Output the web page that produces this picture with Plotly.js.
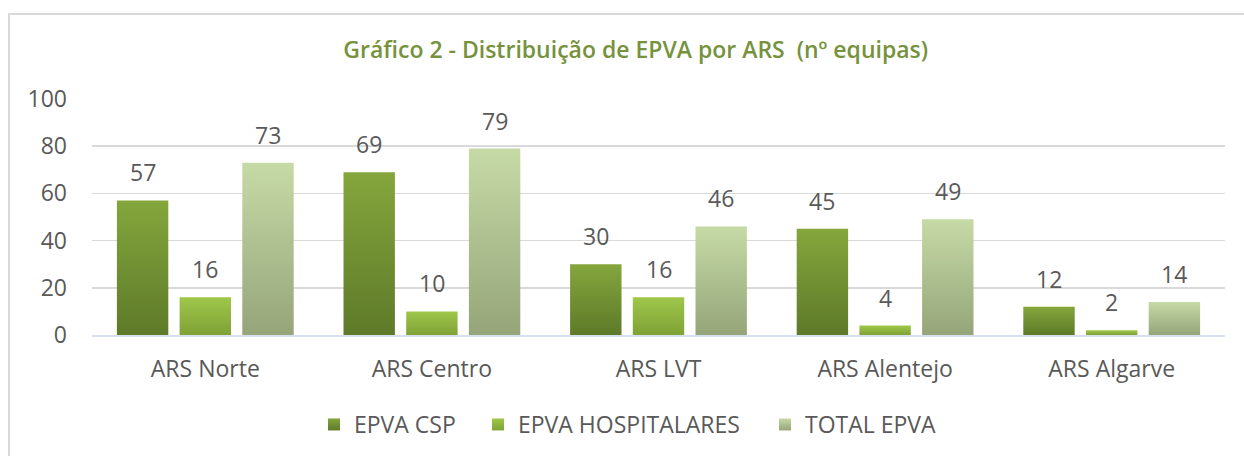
<!DOCTYPE html>
<html>
<head>
<meta charset="utf-8">
<script src="https://cdn.plot.ly/plotly-3.0.1.min.js"></script>
<style>
  html, body { margin: 0; padding: 0; background: #fff; }
  #wrap { position: relative; width: 1244px; height: 456px; overflow: hidden; }
  #chart { position: absolute; left: 0; top: 0; width: 1244px; height: 456px; }
  #frame { position: absolute; left: 8px; top: 13px; width: 1300px; height: 500px;
           border-left: 2px solid #d9d9d9; border-top: 2px solid #d9d9d9; pointer-events: none; }
</style>
</head>
<body>
<div id="wrap">
  <div id="frame"></div>
  <div id="chart"></div>
</div>
<script>
const categories = ["ARS Norte", "ARS Centro", "ARS LVT", "ARS Alentejo", "ARS Algarve"];
const seriesNames = ["EPVA CSP", "EPVA HOSPITALARES", "TOTAL EPVA"];
const epvaCsp = [57, 69, 30, 45, 12];
const epvaHosp = [16, 10, 16, 4, 2];
const totalEpva = [73, 79, 46, 49, 14];
const yTicks = [0, 20, 40, 60, 80, 100];

const seriesValues = [epvaCsp, epvaHosp, totalEpva];
const solid = ["#71902f", "#8fb541", "#aebf8f"];
const grads = [["#84a63c", "#5e7a29"], ["#9fc74b", "#7fa235"], ["#c6daa6", "#95a579"]];

const font = "'Open Sans', 'Noto Sans', sans-serif";
const textColor = "#595959";
const legendIds = ["legend", "legend2", "legend3"];
const legendLeftPx = [314, 478, 765];

const traces = seriesValues.map((vals, i) => ({
  type: "bar",
  name: seriesNames[i],
  x: categories,
  y: vals,
  legend: legendIds[i],
  marker: { color: solid[i], line: { width: 0 } },
  hoverinfo: "skip"
}));

// data labels via annotations anchored on data coords
const slot = 62.7;
const annotations = [];
seriesValues.forEach((vals, i) => {
  vals.forEach((v, j) => {
    annotations.push({
      x: categories[j], y: v, xref: "x", yref: "y",
      text: String(v), showarrow: false,
      xshift: (i - 1) * slot, yshift: 28,
      font: { family: font, size: 23, color: textColor }
    });
  });
});

const layout = {
  width: 1244, height: 456,
  margin: { l: 92, r: 19, t: 99, b: 121 },
  paper_bgcolor: "rgba(0,0,0,0)",
  plot_bgcolor: "rgba(0,0,0,0)",
  barmode: "group",
  bargap: 0.17,
  bargroupgap: 0.18,
  title: {
    text: "Gráfico 2 - Distribuição de EPVA por ARS&nbsp; (nº equipas)",
    xref: "container", x: 0.511, xanchor: "center",
    yref: "container", y: 1 - 50 / 456, yanchor: "middle",
    font: { family: font, size: 23, color: "#76923c", weight: 600 }
  },
  xaxis: {
    type: "category",
    showgrid: false,
    showline: true, linecolor: "#d6e0f0", linewidth: 2,
    ticks: "", ticklabelstandoff: 12,
    tickfont: { family: font, size: 23, color: textColor },
    fixedrange: true
  },
  yaxis: {
    range: [0, 100],
    tickvals: yTicks,
    ticktext: yTicks.map(String),
    showgrid: true, gridcolor: "#d9d9d9", gridwidth: 1.5,
    zeroline: false, showline: false,
    ticks: "", ticklabelstandoff: 24,
    tickfont: { family: font, size: 23, color: textColor },
    fixedrange: true
  },
  showlegend: true,
  annotations: annotations
};

legendIds.forEach((id, i) => {
  layout[id] = {
    orientation: "h",
    xref: "container", x: legendLeftPx[i] / 1244, xanchor: "left",
    yref: "container", y: 1 - 403 / 456, yanchor: "top",
    font: { family: font, size: 23, color: textColor },
    bgcolor: "rgba(0,0,0,0)",
    itemclick: false, itemdoubleclick: false
  };
});

function applyGradients(gd) {
  const svg = gd.querySelector("svg.main-svg");
  if (!svg) return;
  let defs = svg.querySelector("defs");
  const NS = "http://www.w3.org/2000/svg";
  if (!defs) { defs = document.createElementNS(NS, "defs"); svg.insertBefore(defs, svg.firstChild); }
  grads.forEach((g, i) => {
    const id = "barGrad" + i;
    if (svg.querySelector("#" + id)) return;
    const lg = document.createElementNS(NS, "linearGradient");
    lg.setAttribute("id", id);
    lg.setAttribute("x1", "0"); lg.setAttribute("y1", "0");
    lg.setAttribute("x2", "0"); lg.setAttribute("y2", "1");
    [[0, g[0]], [1, g[1]]].forEach(([o, c]) => {
      const s = document.createElementNS(NS, "stop");
      s.setAttribute("offset", o); s.setAttribute("stop-color", c);
      lg.appendChild(s);
    });
    defs.appendChild(lg);
  });
  gd.querySelectorAll(".barlayer .trace.bars").forEach((t, i) => {
    t.querySelectorAll(".point path").forEach(p => { p.style.fill = "url(#barGrad" + i + ")"; });
  });
  legendIds.forEach((id, i) => {
    gd.querySelectorAll(".infolayer ." + id + " .legendpoints path").forEach(p => {
      p.style.fill = "url(#barGrad" + i + ")";
    });
  });
}

Plotly.newPlot("chart", traces, layout, { displayModeBar: false, staticPlot: true })
  .then(gd => applyGradients(gd));
</script>
</body>
</html>
